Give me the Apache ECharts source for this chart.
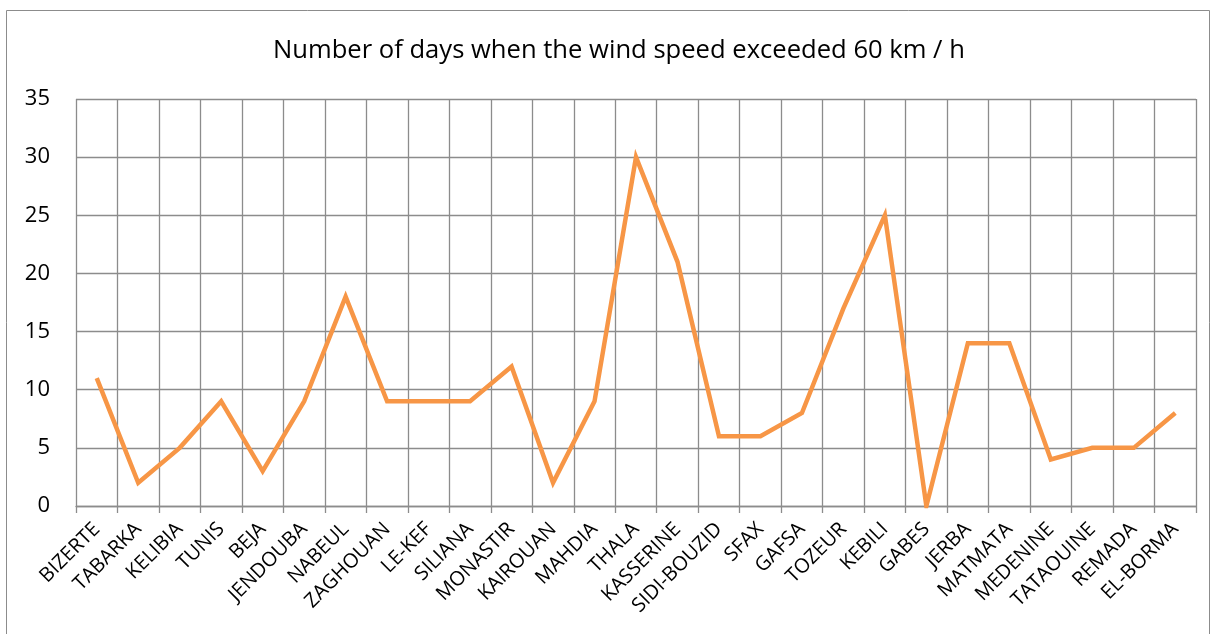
<!DOCTYPE html>
<html>
<head>
    <meta charset="utf-8">
    <title>Wind days</title>
    <script src="https://cdn.jsdelivr.net/npm/echarts@6/dist/echarts.min.js"></script>
</head>
<body style="margin: 0">
<div id="chart" style="width: 1216px; height: 634px"></div>
<script type="text/javascript">
    var stations = ['BIZERTE', 'TABARKA', 'KELIBIA', 'TUNIS', 'BEJA', 'JENDOUBA', 'NABEUL',
        'ZAGHOUAN', 'LE-KEF', 'SILIANA', 'MONASTIR', 'KAIROUAN', 'MAHDIA', 'THALA',
        'KASSERINE', 'SIDI-BOUZID', 'SFAX', 'GAFSA', 'TOZEUR', 'KEBILI', 'GABES',
        'JERBA', 'MATMATA', 'MEDENINE', 'TATAOUINE', 'REMADA', 'EL-BORMA'];
    var days = [11, 2, 5, 9, 3, 9, 18, 9, 9, 9, 12, 2, 9, 30, 21, 6, 6, 8, 17, 25, 0,
        14, 14, 4, 5, 5, 8];

    var gridColor = '#8c8c8c';
    var font = 'Open Sans';

    var chart = echarts.init(document.getElementById('chart'));
    chart.setOption({
        backgroundColor: '#fff',
        animation: false,
        title: {
            text: 'Number of days when the wind speed exceeded 60 km / h',
            left: 268,
            top: 33,
            textStyle: { fontFamily: font, fontSize: 25.6, fontWeight: 'normal', color: '#000' }
        },
        graphic: [{
            type: 'rect',
            shape: { x: 6.5, y: 10.5, width: 1203, height: 660 },
            style: { fill: null, stroke: gridColor, lineWidth: 1 }
        }],
        grid: { left: 76, right: 20, top: 99, bottom: 128 },
        xAxis: {
            type: 'category',
            data: stations,
            boundaryGap: true,
            axisLine: { lineStyle: { color: gridColor, width: 1.3 } },
            axisTick: { show: true, length: 7, lineStyle: { color: gridColor, width: 1.3 } },
            splitLine: { show: true, lineStyle: { color: gridColor, width: 1.3 } },
            axisLabel: {
                rotate: 45, interval: 0, margin: 20,
                fontFamily: font, fontSize: 20, color: '#000'
            }
        },
        yAxis: {
            type: 'value',
            min: 0, max: 35, interval: 5,
            axisLine: { show: false },
            axisTick: { show: false },
            splitLine: { lineStyle: { color: gridColor, width: 1.3 } },
            axisLabel: { margin: 26, fontFamily: font, fontSize: 22, color: '#000' }
        },
        series: [{
            type: 'line',
            data: days,
            showSymbol: false,
            symbol: 'none',
            lineStyle: { color: '#f79646', width: 4.5, join: 'miter' }
        }]
    });
</script>
</body>
</html>
